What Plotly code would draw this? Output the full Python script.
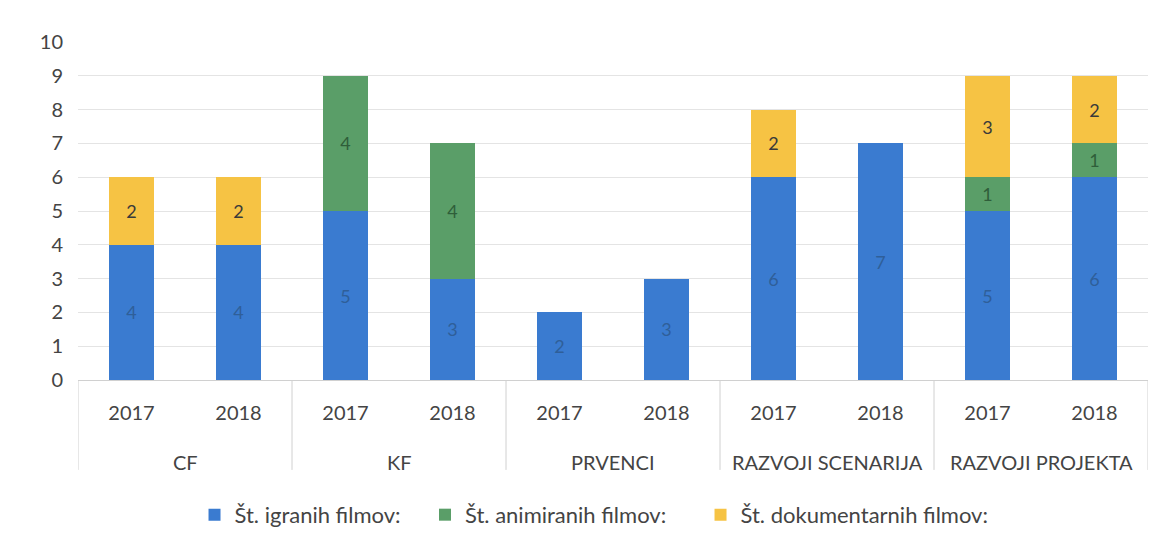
import plotly.graph_objects as go

groups = ["CF", "CF", "KF", "KF", "PRVENCI", "PRVENCI",
          "RAZVOJI SCENARIJA", "RAZVOJI SCENARIJA", "RAZVOJI PROJEKTA", "RAZVOJI PROJEKTA"]
years = ["2017", "2018"] * 5

igrani = [4, 4, 5, 3, 2, 3, 6, 7, 5, 6]
animirani = [0, 0, 4, 4, 0, 0, 0, 0, 1, 1]
dokumentarni = [2, 2, 0, 0, 0, 0, 2, 0, 3, 2]

series_names = ["Št. igranih filmov:", "Št. animiranih filmov:", "Št. dokumentarnih filmov:"]
series_values = [igrani, animirani, dokumentarni]
series_colors = ["#3a7bd0", "#5a9e68", "#f6c344"]
label_colors = ["#2f5f99", "#2f5e3a", "#3a3a3a"]

FONT = "Lato"
TXT = "#444444"
LINE = "#d0d0d0"

categories = [f"{g} {y}" for g, y in zip(groups, years)]
legend_ids = ["legend", "legend2", "legend3"]
legend_x = [0.1089, 0.3243, 0.5818]

fig = go.Figure()
for name, vals, col, lc, lid in zip(series_names, series_values, series_colors, label_colors, legend_ids):
    fig.add_trace(go.Bar(
        x=categories,
        y=[v if v else None for v in vals],
        name=name,
        legend=lid,
        marker=dict(color=col, line=dict(width=0)),
        text=[str(v) if v else "" for v in vals],
        textposition="inside",
        insidetextanchor="middle",
        textangle=0,
        textfont=dict(family=FONT, size=18, color=lc),
    ))

# group labels and dividers below the year tick labels
unique_groups = list(dict.fromkeys(groups))
for g in unique_groups:
    idx = [i for i, gg in enumerate(groups) if gg == g]
    fig.add_annotation(
        x=(idx[0] + idx[-1]) / 2, xref="x", y=-0.243, yref="paper",
        text=g, showarrow=False, yanchor="middle",
        font=dict(family=FONT, size=20, color=TXT),
    )
boundaries = [-0.5] + [i + 0.5 for i in range(len(groups) - 1) if groups[i] != groups[i + 1]] + [len(groups) - 0.5]
for b in boundaries:
    fig.add_shape(type="line", xref="x", yref="paper", x0=b, x1=b, y0=0, y1=-0.266,
                  line=dict(color=LINE, width=1))

legend_style = dict(
    orientation="h", xanchor="left", y=0.04, yref="container", yanchor="middle",
    font=dict(family=FONT, size=22, color=TXT), itemwidth=30, borderwidth=0,
    bgcolor="rgba(0,0,0,0)",
)
fig.update_layout(
    barmode="stack",
    bargap=0.58,
    width=1157, height=528,
    paper_bgcolor="white", plot_bgcolor="white",
    margin=dict(l=70, r=17, t=34, b=156),
    font=dict(family=FONT, color=TXT),
    showlegend=True,
    **{lid: dict(x=lx, **legend_style) for lid, lx in zip(legend_ids, legend_x)},
)
fig.update_yaxes(
    range=[0, 10], dtick=1, showgrid=True, gridcolor="#e4e4e4", gridwidth=1,
    zeroline=False, showline=False, automargin=False,
    tickfont=dict(family=FONT, size=20, color=TXT), ticks="", ticklabelstandoff=14,
)
fig.update_xaxes(
    tickmode="array", tickvals=categories, ticktext=years,
    range=[-0.5, len(categories) - 0.5],
    tickfont=dict(family=FONT, size=20, color=TXT),
    showline=True, linecolor=LINE, linewidth=1, automargin=False,
    ticks="", showgrid=False, ticklabelstandoff=15,
)

fig.write_html("out.html")
